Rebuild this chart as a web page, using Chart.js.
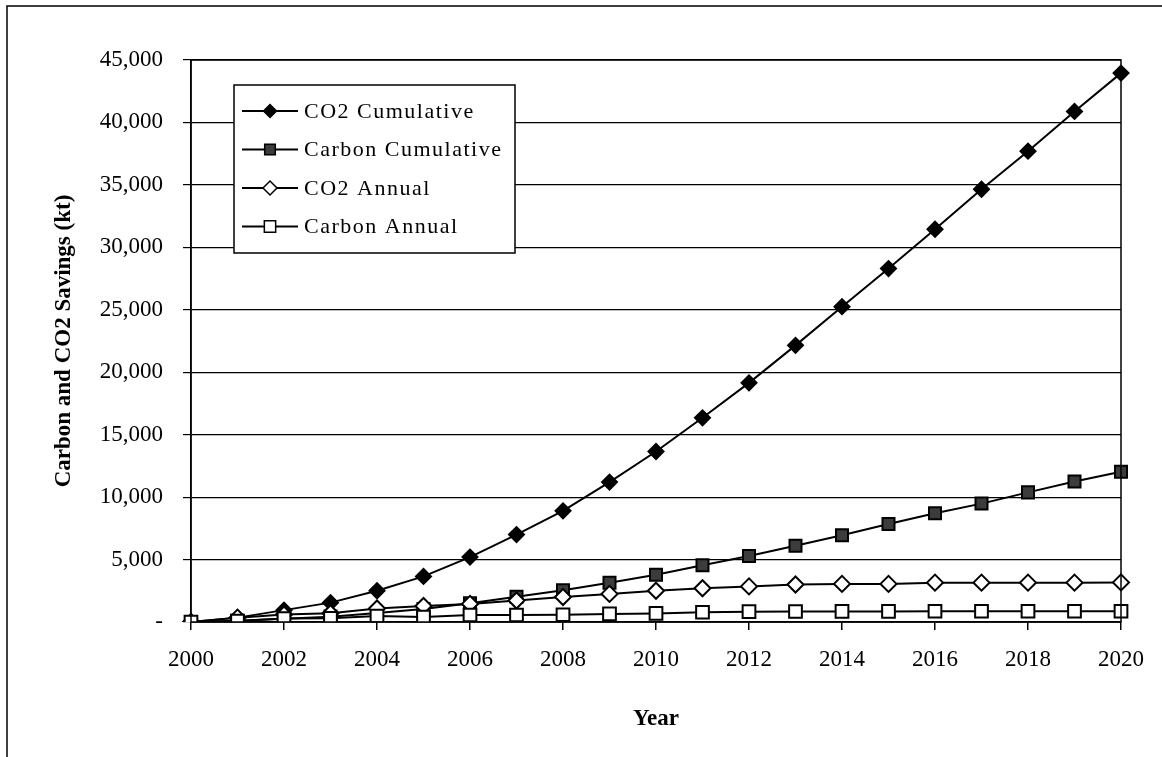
<!DOCTYPE html>
<html>
<head>
<meta charset="utf-8">
<script src="https://cdn.jsdelivr.net/npm/chart.js@4.4.1/dist/chart.umd.min.js"></script>
<style>
    html, body { margin: 0; padding: 0; background: #fff; }
</style>
</head>
<body>
<canvas id="savingsChart" width="1162" height="757"></canvas>
<script>
const years = ["2000", "2001", "2002", "2003", "2004", "2005", "2006", "2007", "2008", "2009", "2010",
    "2011", "2012", "2013", "2014", "2015", "2016", "2017", "2018", "2019", "2020"];

const co2Cumulative = [0, 350, 950, 1550, 2500, 3650, 5200, 7000, 8900, 11200, 13650,
    16350, 19150, 22150, 25250, 28300, 31450, 34650, 37700, 40880, 43950];
const carbonCumulative = [0, 100, 260, 430, 720, 1050, 1500, 2030, 2550, 3150, 3780,
    4550, 5280, 6100, 6950, 7850, 8700, 9480, 10380, 11250, 12030];
const co2Annual = [0, 350, 600, 700, 1080, 1280, 1450, 1720, 2000, 2250, 2500,
    2700, 2850, 3000, 3050, 3050, 3150, 3150, 3150, 3150, 3170];
const carbonAnnual = [0, 80, 280, 300, 480, 400, 560, 560, 580, 650, 690,
    780, 830, 840, 850, 850, 860, 860, 860, 860, 860];

const yTicks = { min: 0, max: 45000, step: 5000 };

const serif = "'Liberation Serif', 'Times New Roman', serif";

// legend box drawn inside the plot, like the original
const boxLegend = {
    id: "boxLegend",
    afterDatasetsDraw(chart) {
        const ctx = chart.ctx;
        const x = 234, y = 85, w = 281, h = 168;
        ctx.save();
        ctx.fillStyle = "#fff";
        ctx.fillRect(x, y, w, h);
        ctx.strokeStyle = "#000";
        ctx.lineWidth = 1.5;
        ctx.strokeRect(x, y, w, h);
        chart.data.datasets.forEach((ds, i) => {
            const cy = 111 + i * 38.5;
            ctx.strokeStyle = "#000";
            ctx.lineWidth = 2;
            ctx.beginPath();
            ctx.moveTo(242, cy);
            ctx.lineTo(298, cy);
            ctx.stroke();
            ctx.fillStyle = ds.pointBackgroundColor;
            ctx.strokeStyle = "#000";
            ctx.lineWidth = 1.5;
            Chart.helpers.drawPoint(ctx, {
                pointStyle: ds.pointStyle,
                radius: ds.pointRadius - 1,
                borderWidth: 1.5,
                rotation: 0
            }, 270, cy);
            ctx.fillStyle = "#000";
            ctx.font = "22px " + serif;
            ctx.letterSpacing = "1.5px";
            ctx.textBaseline = "middle";
            ctx.textAlign = "left";
            ctx.fillText(ds.label, 304, cy + 1);
        });
        ctx.restore();
    }
};

// page frame and plot box
const frame = {
    id: "frame",
    beforeDraw(chart) {
        const ctx = chart.ctx;
        ctx.save();
        ctx.fillStyle = "#fff";
        ctx.fillRect(0, 0, chart.width, chart.height);
        ctx.strokeStyle = "#000";
        ctx.lineWidth = 1.5;
        ctx.beginPath();
        ctx.moveTo(7, 757);
        ctx.lineTo(7, 6);
        ctx.lineTo(1162, 6);
        ctx.stroke();
        ctx.restore();
    },
    afterDraw(chart) {
        const a = chart.chartArea;
        const ctx = chart.ctx;
        ctx.save();
        ctx.strokeStyle = "#000";
        ctx.lineWidth = 1.5;
        ctx.strokeRect(a.left, a.top, a.right - a.left, a.bottom - a.top);
        ctx.restore();
    }
};

new Chart(document.getElementById("savingsChart"), {
    type: "line",
    data: {
        labels: years,
        datasets: [{
            label: "CO2 Cumulative",
            data: co2Cumulative,
            borderColor: "#000",
            borderWidth: 2,
            pointStyle: "rectRot",
            pointRadius: 7.5,
            pointBackgroundColor: "#000",
            pointBorderColor: "#000",
            order: 3
        }, {
            label: "Carbon Cumulative",
            data: carbonCumulative,
            borderColor: "#000",
            borderWidth: 2,
            pointStyle: "rect",
            pointRadius: 8.5,
            pointBackgroundColor: "#3c3c3c",
            pointBorderColor: "#000",
            order: 2
        }, {
            label: "CO2 Annual",
            data: co2Annual,
            borderColor: "#000",
            borderWidth: 2,
            pointStyle: "rectRot",
            pointRadius: 8,
            pointBackgroundColor: "#fff",
            pointBorderColor: "#000",
            pointBorderWidth: 2,
            order: 1
        }, {
            label: "Carbon Annual",
            data: carbonAnnual,
            borderColor: "#000",
            borderWidth: 2,
            pointStyle: "rect",
            pointRadius: 9,
            pointBackgroundColor: "#fff",
            pointBorderColor: "#000",
            pointBorderWidth: 2,
            order: 0
        }]
    },
    options: {
        responsive: false,
        animation: false,
        layout: { padding: { left: 8, top: 60, right: 41, bottom: 0 } },
        plugins: {
            legend: { display: false },
            tooltip: { enabled: false }
        },
        scales: {
            x: {
                afterFit: scale => { scale.height = 135; },
                grid: { drawOnChartArea: false, color: "#000", tickLength: 8, lineWidth: 1.5 },
                border: { color: "#000", width: 1.5 },
                ticks: {
                    autoSkip: false,
                    maxRotation: 0,
                    padding: 16,
                    color: "#000",
                    font: { family: serif, size: 23 },
                    callback: (val, idx) => idx % 2 === 0 ? years[idx] : null
                },
                title: {
                    display: true,
                    text: "Year",
                    color: "#000",
                    font: { family: serif, size: 23, weight: "bold" },
                    padding: { top: 0, bottom: 24 }
                }
            },
            y: {
                min: yTicks.min,
                max: yTicks.max,
                afterFit: scale => { scale.width = 183; },
                grid: { color: "#000", tickLength: 8, lineWidth: 1.2 },
                border: { color: "#000", width: 1.5 },
                ticks: {
                    stepSize: yTicks.step,
                    padding: 20,
                    color: "#000",
                    font: { family: serif, size: 23 },
                    callback: v => v === 0 ? "-" : v.toLocaleString("en-US")
                },
                title: {
                    display: true,
                    text: "Carbon and CO2 Savings (kt)",
                    color: "#000",
                    font: { family: serif, size: 23, weight: "bold" },
                    padding: { top: 42, bottom: 0 }
                }
            }
        }
    },
    plugins: [frame, boxLegend]
});
</script>
</body>
</html>
